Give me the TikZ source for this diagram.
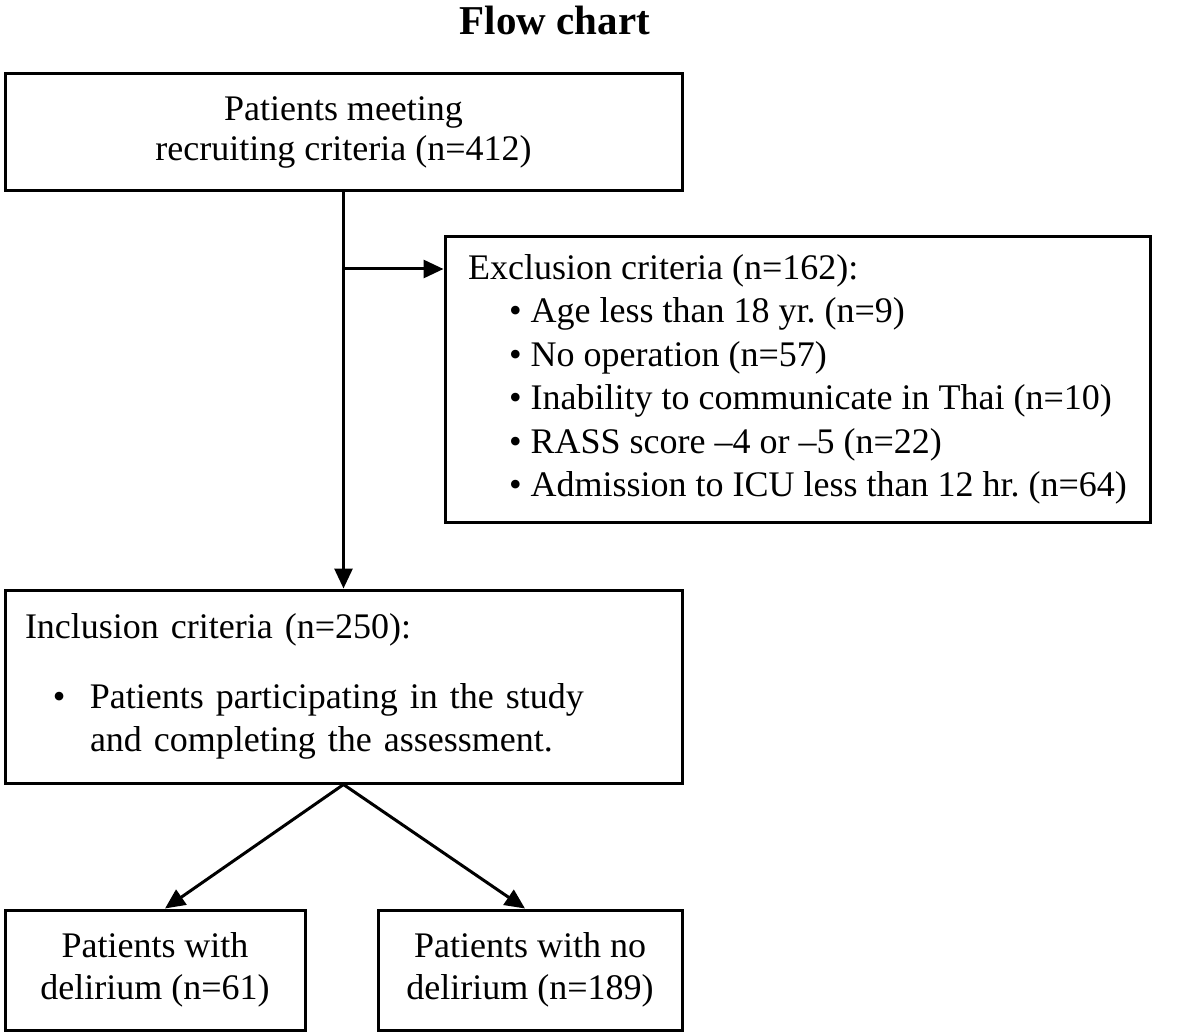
\documentclass[tikz,border=0pt]{standalone}
\usepackage{fontspec}
\setmainfont{Liberation Serif}
\usetikzlibrary{arrows.meta}
\frenchspacing
\tikzset{
  box/.style={draw=black, line width=3pt, rectangle, inner sep=0pt, font=\frenchspacing\fontsize{36}{43.5}\selectfont},
  conn/.style={line width=3pt, -{Triangle[length=20pt,width=18pt]}},
}
\begin{document}
\begin{tikzpicture}[x=1pt,y=-1pt]
\useasboundingbox (0,0) rectangle (1181,1035);
\node[font=\bfseries\fontsize{41}{44}\selectfont] (title) at (555,20) {Flow chart};
\node[box, minimum width=677pt, minimum height=117pt, align=center] (b1) at (343.5,132.5)
  {Patients meeting\\[-4pt]recruiting criteria (n=412)};
\node[box, minimum width=705pt, minimum height=285pt, align=left] (b2) at (797.5,379.5)
  {Exclusion criteria (n=162):\\
   \hspace*{41pt}• Age less than 18 yr. (n=9)\\
   \hspace*{41pt}• No operation (n=57)\\
   \hspace*{41pt}• Inability to communicate in Thai (n=10)\\
   \hspace*{41pt}• RASS score –4 or –5 (n=22)\\
   \hspace*{41pt}• Admission to ICU less than 12 hr. (n=64)};
\node[box, minimum width=677pt, minimum height=193pt, align=left, text width=637pt, inner xsep=20pt] (b3) at (343.5,686.5)
  {Inclusion criteria (n=250):\\[26pt]
   \hspace*{28pt}\makebox[37pt][l]{•}Patients participating in the study\\
   \hspace*{65pt}and completing the assessment.};
\node[box, minimum width=300pt, minimum height=120pt, align=center] (b4) at (155,970)
  {Patients with\\[-2pt]delirium (n=61)};
\node[box, minimum width=304pt, minimum height=120pt, align=center] (b5) at (530,970)
  {Patients with no\\[-2pt]delirium (n=189)};
\coordinate (br) at (343.5,269);
\draw[conn] (b1.south) -- (b3.north);
\draw[conn] (br) -- (br -| b2.west);
\draw[conn] (b3.south) -- ([xshift=10pt]b4.north);
\draw[conn] (b3.south) -- ([xshift=-5pt]b5.north);
\end{tikzpicture}
\end{document}
